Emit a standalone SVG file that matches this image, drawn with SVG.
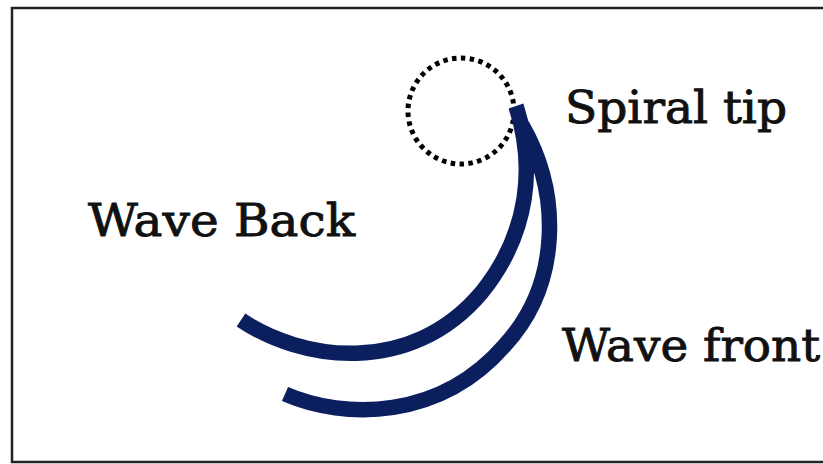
<svg xmlns="http://www.w3.org/2000/svg" width="823" height="464" viewBox="0 0 823 464">
<style>
.wave{fill:none;stroke:#0b1f5e;stroke-width:15.5;stroke-linecap:butt}
.lbl{font-family:"DejaVu Serif","Liberation Serif",serif;font-size:44px;fill:#111;stroke:#111;stroke-width:0.9}
</style>
<rect x="0" y="0" width="823" height="464" fill="#fff"/>
<rect x="12" y="8" width="830" height="454" fill="none" stroke="#222" stroke-width="2.5"/>
<g id="spiral-tip">
<circle cx="461" cy="111" r="53" fill="none" stroke="#000" stroke-width="5" stroke-dasharray="4.5 4.4"/>
</g>
<g id="connectors">
<path id="wave-front" class="wave" d="M 285 394 C 345 420, 440 420, 505 345 C 560 285, 562 195, 522 125"/>
<path id="wave-back" class="wave" d="M 241 320 C 300 360, 410 378, 482 292 C 530 232, 535 165, 516 106"/>
</g>
<g id="labels">
<text class="lbl" x="88" y="236" textLength="267" lengthAdjust="spacingAndGlyphs">Wave Back</text>
<text class="lbl" x="565" y="123" textLength="222" lengthAdjust="spacingAndGlyphs">Spiral tip</text>
<text class="lbl" x="562" y="361" textLength="258" lengthAdjust="spacingAndGlyphs">Wave front</text>
</g>
</svg>
